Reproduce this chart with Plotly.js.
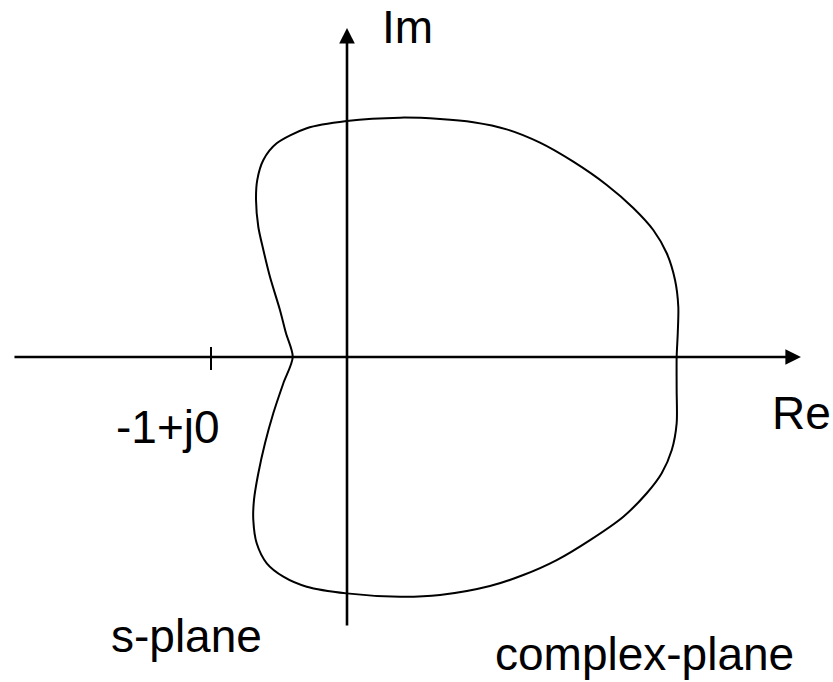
<!DOCTYPE html>
<html>
<head>
<meta charset="utf-8">
<script src="https://cdn.plot.ly/plotly-3.0.1.min.js"></script>
<style>
  html, body { margin: 0; padding: 0; background: #ffffff; }
  #chart { width: 833px; height: 682px; }
</style>
</head>
<body>
<div id="chart"></div>
<script>
// Nyquist-style contour in the complex plane (units: -1 at the marked tick)
const curveRe = [-0.399, -0.449, -0.493, -0.566, -0.615, -0.652, -0.669, -0.660, -0.615, -0.517, -0.296, -0.002,
                 0.390, 0.684, 0.929, 1.174, 1.419, 1.664, 1.910, 2.105, 2.252, 2.351, 2.412, 2.436, 2.432, 2.424,
                 2.424, 2.424, 2.388, 2.314, 2.204, 2.032, 1.787, 1.542, 1.296, 1.051, 0.684, 0.390, -0.002,
                 -0.296, -0.468, -0.590, -0.664, -0.689, -0.684, -0.652, -0.603, -0.542, -0.468, -0.399];
const curveIm = [0.000, 0.176, 0.346, 0.588, 0.787, 0.956, 1.154, 1.301, 1.449, 1.571, 1.682, 1.735,
                 1.760, 1.750, 1.726, 1.674, 1.576, 1.436, 1.265, 1.096, 0.934, 0.763, 0.566, 0.370, 0.174, 0.000,
                 -0.243, -0.488, -0.684, -0.855, -1.002, -1.174, -1.346, -1.493, -1.603, -1.684, -1.750, -1.763, -1.738,
                 -1.689, -1.615, -1.517, -1.370, -1.199, -1.051, -0.855, -0.635, -0.414, -0.193, 0.000];

// Axis extents
const realAxisExtent = [-2.456, 3.338];
const imagAxisExtent = [-1.985, 2.419];

// Critical point
const criticalPoint = { re: -1, im: 0 };

// Text labels
const labelTexts = ['Im', 'Re', '-1+j0', 's-plane', 'complex-plane'];
const labelRe = [0.243, 3.110, -1.713, -1.750, 1.074];
const labelIm = [2.430, -0.415, -0.518, -2.049, -2.187];

const TICK_HALF_UP = 0.074, TICK_HALF_DOWN = 0.096;
const FONT = { family: 'Liberation Sans, Arial, Helvetica, sans-serif', size: 46, color: '#000000' };

const traces = [
  {
    x: curveRe, y: curveIm, type: 'scatter', mode: 'lines',
    line: { color: '#000000', width: 2, shape: 'spline', smoothing: 0.8 },
    hoverinfo: 'skip', showlegend: false
  },
  {
    x: [criticalPoint.re, criticalPoint.re],
    y: [criticalPoint.im + TICK_HALF_UP, criticalPoint.im - TICK_HALF_DOWN],
    type: 'scatter', mode: 'lines',
    line: { color: '#000000', width: 2 },
    hoverinfo: 'skip', showlegend: false
  }
];

const annotations = [
  // real axis with arrow
  { x: realAxisExtent[1], y: 0, ax: realAxisExtent[0], ay: 0, xref: 'x', yref: 'y', axref: 'x', ayref: 'y',
    text: '', showarrow: true, arrowhead: 2, arrowwidth: 2.6, arrowsize: 1.2, arrowcolor: '#000000', standoff: 0 },
  // imaginary axis with arrow
  { x: 0, y: imagAxisExtent[1], ax: 0, ay: imagAxisExtent[0], xref: 'x', yref: 'y', axref: 'x', ayref: 'y',
    text: '', showarrow: true, arrowhead: 2, arrowwidth: 2.6, arrowsize: 1.2, arrowcolor: '#000000', standoff: 0 }
];
labelTexts.forEach(function (t, i) {
  annotations.push({
    x: labelRe[i], y: labelIm[i], xref: 'x', yref: 'y', text: t, showarrow: false,
    xanchor: 'left', yanchor: 'middle', font: FONT
  });
});

const layout = {
  width: 833, height: 682,
  margin: { l: 0, r: 0, t: 0, b: 0 },
  paper_bgcolor: '#ffffff', plot_bgcolor: '#ffffff',
  showlegend: false,
  xaxis: { range: [-347 / 136, 486 / 136], visible: false, fixedrange: true },
  yaxis: { range: [-325 / 136, 357 / 136], visible: false, fixedrange: true },
  annotations: annotations
};

Plotly.newPlot('chart', traces, layout, { staticPlot: true, displayModeBar: false });
</script>
</body>
</html>
